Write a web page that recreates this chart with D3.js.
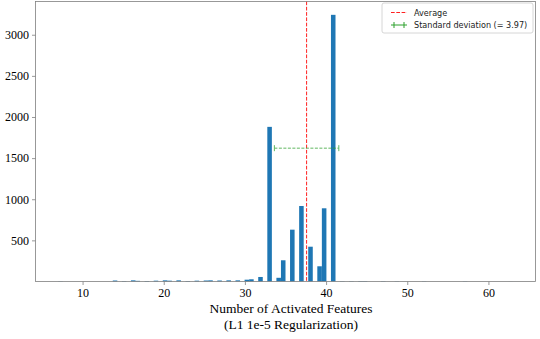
<!DOCTYPE html>
<html>
<head>
<meta charset="utf-8">
<script src="https://cdn.jsdelivr.net/npm/d3@7"></script>
<style>
  body { margin: 0; background: #fff; }
  .tick text { font-family: "Liberation Serif", "DejaVu Serif", serif; font-size: 12px; fill: #000; }
  .legend-text { font-family: "DejaVu Sans", sans-serif; font-size: 8.1px; fill: #222; }
</style>
</head>
<body>
<script>
// Number of activated features observed, and how many samples had that count
const FEATURE_COUNTS = [7, 14, 15, 16, 17, 18, 19, 20, 21, 22, 23, 24, 25, 26, 27, 28, 29, 30, 31, 32,
  33, 34, 35, 36, 37, 38, 39, 40, 41, 42, 43, 44, 45, 47, 49, 52, 57, 63];
const FREQUENCIES = [3, 12, 5, 14, 8, 6, 10, 14, 10, 14, 6, 10, 12, 14, 12, 14, 14, 22, 27, 55,
  1880, 45, 258, 630, 918, 423, 185, 890, 3242, 4, 4, 5, 5, 4, 3, 3, 3, 1];
const MEAN = 37.6;
const STD = 3.97;
const N_BINS = 100;
const X_TICKS = [10, 20, 30, 40, 50, 60];
const Y_TICKS = [500, 1000, 1500, 2000, 2500, 3000];

const WIDTH = 540;
const HEIGHT = 339;
const PLOT = { left: 35.5, right: 535.5, top: 1.5, bottom: 281.5 };
const BLUE = "#1f77b4";
const GREY = "#7f7f7f";

const svg = d3.select("body").append("svg")
  .attr("width", WIDTH)
  .attr("height", HEIGHT);

// matplotlib-like histogram bins over [min, max]
const dataMin = d3.min(FEATURE_COUNTS);
const dataMax = d3.max(FEATURE_COUNTS);
const binWidth = (dataMax - dataMin) / N_BINS;
const bins = FEATURE_COUNTS.map((v, i) => {
  const idx = Math.min(Math.floor((v - dataMin) / binWidth), N_BINS - 1);
  return { x0: dataMin + idx * binWidth, x1: dataMin + (idx + 1) * binWidth, count: FREQUENCIES[i] };
});

const pad = (dataMax - dataMin) * 0.05;
const x = d3.scaleLinear()
  .domain([dataMin - pad, dataMax + pad])
  .range([PLOT.left, PLOT.right]);
const y = d3.scaleLinear()
  .domain([0, d3.max(FREQUENCIES) * 1.05])
  .range([PLOT.bottom, PLOT.top]);

svg.append("g")
  .selectAll("rect")
  .data(bins)
  .enter().append("rect")
  .attr("x", d => x(d.x0))
  .attr("y", d => y(d.count))
  .attr("width", d => x(d.x1) - x(d.x0))
  .attr("height", d => y(0) - y(d.count))
  .style("fill", BLUE);

// average line
svg.append("line")
  .attr("x1", x(MEAN)).attr("x2", x(MEAN))
  .attr("y1", PLOT.top).attr("y2", PLOT.bottom)
  .style("stroke", "#ff2020")
  .style("stroke-width", 1)
  .style("stroke-dasharray", "3.7,1.6");

// standard deviation error bar
const errY = y(d3.max(FREQUENCIES) / 2);
const err = svg.append("g").style("stroke", "#2ca02c").style("opacity", 0.75);
err.append("line")
  .attr("x1", x(MEAN - STD)).attr("x2", x(MEAN + STD))
  .attr("y1", errY).attr("y2", errY)
  .style("stroke-width", 1)
  .style("stroke-dasharray", "3,1.5");
[MEAN - STD, MEAN + STD].forEach(v => {
  err.append("line")
    .attr("x1", x(v)).attr("x2", x(v))
    .attr("y1", errY - 3).attr("y2", errY + 3)
    .style("stroke-width", 1);
});

// axes
const xAxis = svg.append("g")
  .attr("transform", `translate(0,${PLOT.bottom})`)
  .call(d3.axisBottom(x).tickValues(X_TICKS).tickFormat(d3.format("d")).tickSize(3.5).tickPadding(3));
const yAxis = svg.append("g")
  .attr("transform", `translate(${PLOT.left},0)`)
  .call(d3.axisLeft(y).tickValues(Y_TICKS).tickFormat(d3.format("d")).tickSize(3.5).tickPadding(3));
[xAxis, yAxis].forEach(a => {
  a.select(".domain").remove();
  a.selectAll(".tick line").style("stroke", GREY).style("stroke-width", 0.8);
});

svg.append("rect")
  .attr("x", PLOT.left).attr("y", PLOT.top)
  .attr("width", PLOT.right - PLOT.left)
  .attr("height", PLOT.bottom - PLOT.top)
  .style("fill", "none")
  .style("stroke", GREY)
  .style("stroke-width", 0.8);

// x label (two lines)
const xlabel = svg.append("text")
  .attr("text-anchor", "middle")
  .style("font-family", "\"Liberation Serif\", \"DejaVu Serif\", serif")
  .style("font-size", "13.5px");
xlabel.append("tspan").attr("x", 291).attr("y", 313).text("Number of Activated Features");
xlabel.append("tspan").attr("x", 291).attr("y", 329).text("(L1 1e-5 Regularization)");

// legend
const legend = svg.append("g").attr("transform", "translate(382,3)");
legend.append("rect")
  .attr("width", 151).attr("height", 30).attr("rx", 2)
  .style("fill", "#fff").style("fill-opacity", 0.8)
  .style("stroke", "#cccccc").style("stroke-width", 0.8);
legend.append("line")
  .attr("x1", 9).attr("x2", 25).attr("y1", 9.5).attr("y2", 9.5)
  .style("stroke", "#ff2020").style("stroke-width", 1).style("stroke-dasharray", "3.7,1.6");
legend.append("line")
  .attr("x1", 9).attr("x2", 25).attr("y1", 22).attr("y2", 22)
  .style("stroke", "#2ca02c").style("stroke-width", 1);
[12, 22].forEach(cx => {
  legend.append("line")
    .attr("x1", cx).attr("x2", cx).attr("y1", 19).attr("y2", 25)
    .style("stroke", "#2ca02c").style("stroke-width", 1);
});
legend.append("text").attr("class", "legend-text").attr("x", 32).attr("y", 12.5).text("Average");
legend.append("text").attr("class", "legend-text").attr("x", 32).attr("y", 25.2).text("Standard deviation (= 3.97)");
</script>
</body>
</html>
